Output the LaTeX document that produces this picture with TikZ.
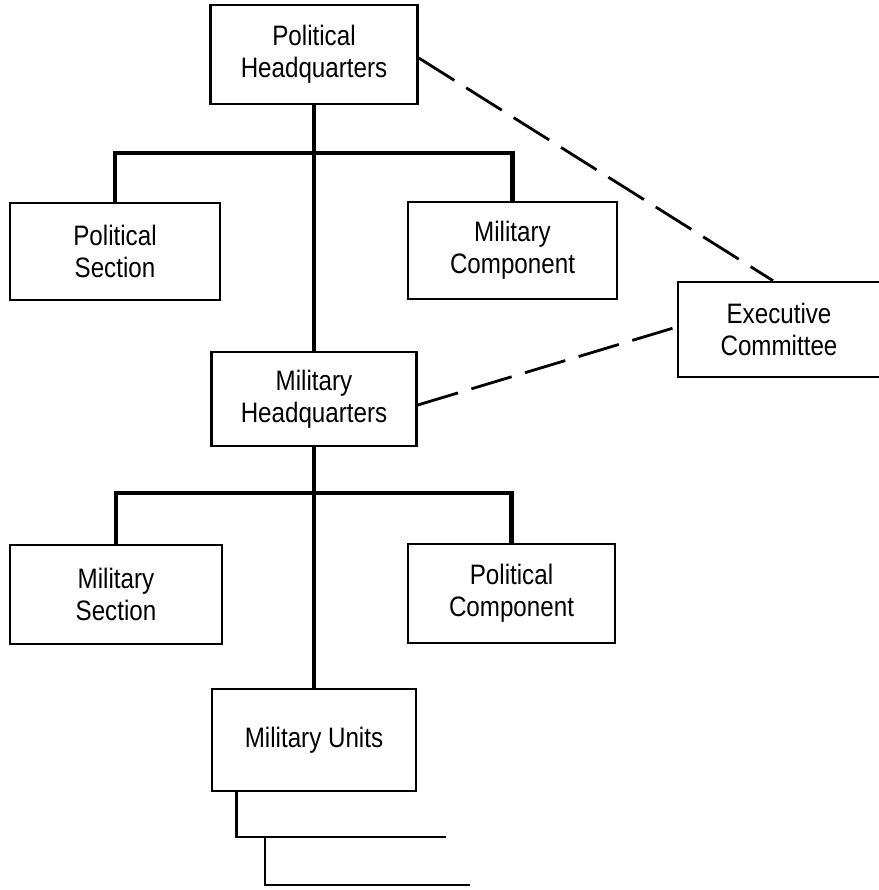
\documentclass[tikz,border=0pt]{standalone}
\usepackage{fontspec}
\setmainfont{Liberation Sans}[FakeStretch=0.86]
\usepackage{xcolor}

\begin{document}
\begin{tikzpicture}[x=0.02cm, y=-0.02cm,
    box/.style={draw, line width=1.5pt, align=center, inner sep=0pt,
      minimum width=4.14cm, minimum height=1.96cm,
      font=\fontsize{16}{18.2}\selectfont},
    trunk/.style={line width=2.5pt},
    link/.style={line width=1.6pt, dash pattern=on 0.84cm off 0.28cm},
    sub/.style={line width=1.4pt}]
    \useasboundingbox (0,0) rectangle (879,890);
    % boxes
    \node[box, minimum height=1.98cm] (phq) at (314,54.5) {Political\\Headquarters};
    \node[box, minimum width=4.2cm, minimum height=1.94cm] (ps) at (115,251.5) {Political\\Section};
    \node[box, minimum width=4.18cm, minimum height=1.94cm] (mc) at (512.5,250.5) {Military\\Component};
    \node[box, minimum width=4.04cm, minimum height=1.9cm] (ec) at (779,329.5) {Executive\\Committee};
    \node[box, minimum width=4.1cm, minimum height=1.88cm] (mhq) at (314,399) {Military\\Headquarters};
    \node[box, minimum width=4.24cm, minimum height=1.98cm] (ms) at (116,594.5) {Military\\Section};
    \node[box, minimum height=1.98cm] (pc) at (511.5,593.5) {Political\\Component};
    \node[box, minimum width=4.08cm, minimum height=2.04cm] (mu) at (314,740) {Military Units};
    \coordinate (bus1) at (314,153);
    \coordinate (bus2) at (314,493);
    \coordinate (u1) at (446,837);
    \coordinate (k1) at (265,837);
    \coordinate (u2) at (470,885);
    % lines
    \draw[trunk] (phq.south) -- (mhq.north);
    \draw[trunk] (ps.north) |- (bus1) -| (mc.north);
    \draw[trunk] (mhq.south) -- (mu.north);
    \draw[trunk] (ms.north) |- (bus2) -| (pc.north);
    \draw[sub] ([xshift=0.52cm]mu.south west) |- (u1);
    \draw[sub] (k1) |- (u2);
    \draw[link] ([yshift=-0.07cm]phq.east) -- ([xshift=-0.12cm]ec.north);
    \draw[link] ([yshift=-0.12cm]mhq.east) -- ([yshift=0.05cm]ec.west);
\end{tikzpicture}
\end{document}
